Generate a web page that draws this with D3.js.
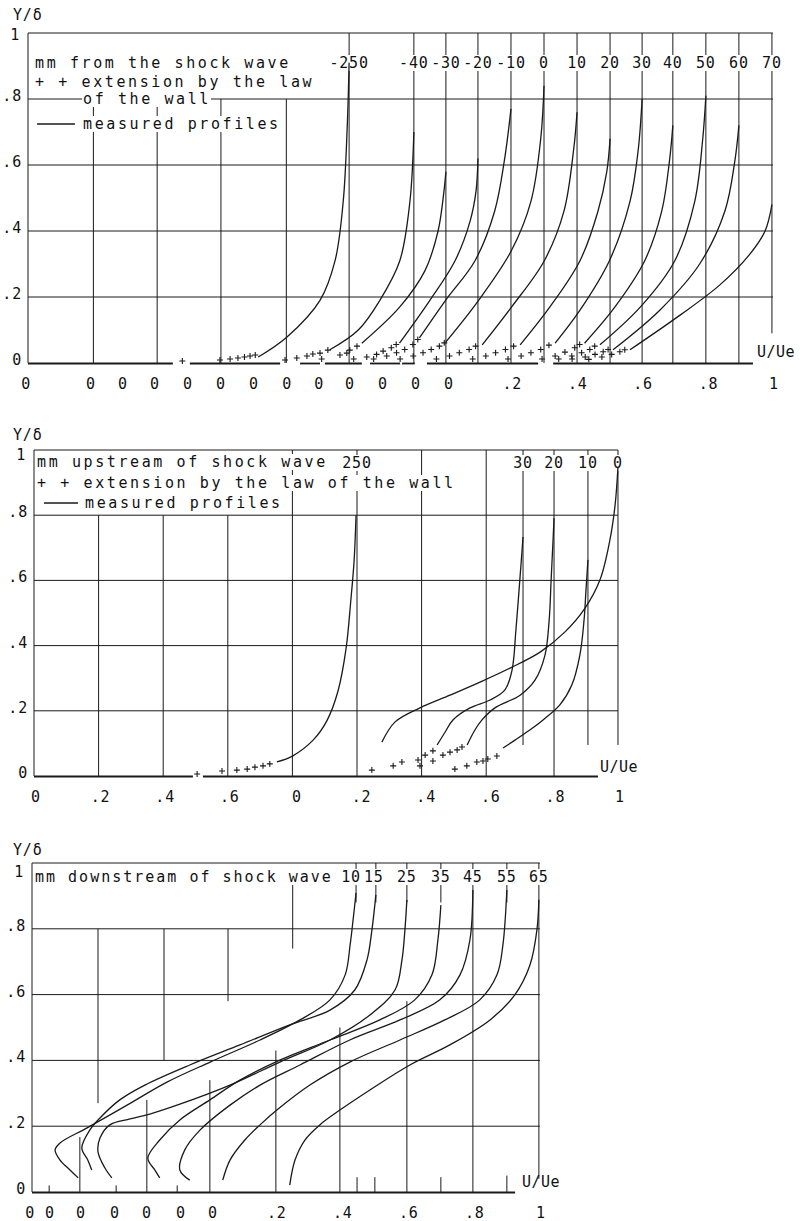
<!DOCTYPE html>
<html><head><meta charset="utf-8">
<script src="https://cdn.jsdelivr.net/npm/d3@7"></script>
<style>
body{margin:0;background:#fff;}
text{font-family:"DejaVu Sans Mono",monospace;font-size:15px;fill:#111;letter-spacing:0.8px;}
text.lg{letter-spacing:2.6px;}
text.lg3{letter-spacing:2.0px;}
</style></head><body><svg id="c" width="805" height="1221"></svg>
<script>
// ---------------- PANEL 1 DATA ----------------
const p1Labels = ["-250","-40","-30","-20","-10","0","10","20","30","40","50","60","70"];
const p1Offsets = [-0.018,0.18,0.278,0.376,0.477,0.578,0.679,0.78,0.878,0.972,1.073,1.174,1.275];
const p1Curves = [
 [[.722,.018],[.81,.079],[.911,.19],[.957,.31],[.982,.49],[.994,.71],[1.0,.91]],
 [[.743,.04],[.83,.10],[.896,.19],[.957,.31],[.988,.49],[1.0,.70]],
 [[.743,.06],[.859,.17],[.936,.28],[.976,.40],[.994,.52],[1.0,.58]],
 [[.76,.06],[.853,.19],[.93,.31],[.976,.43],[.994,.52],[1.0,.62]],
 [[.72,.076],[.80,.19],[.89,.31],[.95,.46],[.98,.615],[1.0,.77]],
 [[.70,.064],[.80,.19],[.90,.34],[.96,.49],[.99,.68],[1.0,.84]],
 [[.71,.055],[.80,.17],[.90,.31],[.96,.46],[.99,.65],[1.0,.76]],
 [[.725,.055],[.816,.17],[.908,.31],[.963,.46],[.99,.58],[1.0,.68]],
 [[.734,.06],[.81,.16],[.90,.31],[.963,.49],[.988,.645],[1.0,.80]],
 [[.73,.06],[.823,.17],[.914,.31],[.966,.46],[.99,.615],[1.0,.72]],
 [[.676,.055],[.80,.17],[.905,.31],[.966,.49],[.99,.675],[1.0,.81]],
 [[.615,.04],[.758,.16],[.88,.30],[.957,.46],[.988,.615],[1.0,.72]],
 [[.566,.04],[.719,.145],[.84,.236],[.93,.327],[.979,.40],[1.0,.48]]
];
const p1Plus = [
 [[.49,0],[.605,.003],[.636,.006],[.66,.009],[.68,.012],[.697,.015],[.713,.018]],
 [[.606,.003],[.642,.009],[.673,.015],[.691,.021],[.713,.024],[.737,.033]],
 [[.62,.006],[.676,.018],[.697,.024],[.706,.033],[.728,.045]],
 [[.62,.006],[.66,.012],[.69,.02],[.71,.03],[.735,.04],[.75,.05]],
 [[.58,.006],[.62,.015],[.65,.025],[.675,.035],[.70,.05],[.715,.065]],
 [[.56,.006],[.60,.015],[.63,.025],[.655,.035],[.68,.045],[.695,.055]],
 [[.57,.006],[.61,.015],[.64,.025],[.67,.035],[.69,.045]],
 [[.58,.006],[.62,.015],[.65,.025],[.68,.035],[.705,.045]],
 [[.59,.006],[.63,.015],[.66,.025],[.69,.035],[.715,.048]],
 [[.60,.006],[.64,.015],[.67,.027],[.70,.04],[.715,.05]],
 [[.55,.006],[.59,.015],[.62,.025],[.645,.035],[.66,.045]],
 [[.49,.006],[.53,.012],[.56,.02],[.585,.028],[.60,.035]],
 [[.44,.005],[.48,.012],[.51,.02],[.535,.028],[.55,.034]]
];
const p1Grid = [[0.2,0,0.8],[0.395,0,0.8],[0.59,0,0.8],[0.79,0,0.8]];
const p1RefBottom = [0,0,0,0,0,0,0,0,0,0,0,0,0.09];
const p1Base = [[0,0.443],[0.495,0.771],[0.832,0.893],[0.908,1.021],[1.046,1.138],[1.144,1.183],[1.22,1.56],[1.606,2.217]];
const p1TickU = [0.2,0.4,0.6,0.8,1.0];
const p1TickText = [".2",".4",".6",".8","1"];

// ---------------- PANEL 2 DATA ----------------
const p2Labels = ["250","30","20","10","0"];
const p2Offsets = [0,0.514,0.61,0.715,0.808];
const p2Curves = [
 [[.752,.043],[.80,.061],[.864,.11],[.907,.17],[.941,.26],[.966,.39],[.981,.54],[.991,.66],[.997,.80]],
 [[.734,.095],[.759,.135],[.783,.172],[.836,.209],[.898,.233],[.944,.264],[.966,.325],[.978,.448],[.99,.60],[1.0,.733]],
 [[.731,.095],[.755,.141],[.777,.172],[.817,.209],[.895,.248],[.941,.294],[.972,.371],[.985,.479],[.991,.601],[.997,.724],[1.0,.791]],
 [[.737,.086],[.774,.11],[.82,.141],[.861,.172],[.913,.218],[.95,.279],[.975,.371],[.988,.479],[.994,.571],[1.0,.663]],
 [[.269,.104],[.31,.166],[.387,.209],[.48,.248],[.573,.288],[.666,.331],[.759,.38],[.836,.442],[.898,.515],[.944,.601],[.975,.724],[.991,.831],[1.0,.948]]
];
const p2Plus = [
 [[.505,0],[.582,.009],[.628,.012],[.66,.015],[.684,.021],[.709,.025],[.73,.031]],
 [[.532,.012],[.598,.025],[.625,.037],[.675,.043],[.697,.058],[.721,.071]],
 [[.585,.025],[.625,.04],[.656,.058],[.678,.067],[.70,.074],[.715,.083]],
 [[.588,.015],[.625,.025],[.656,.037],[.675,.04],[.69,.046],[.718,.055]],
 []
];
const p2Grid = [[0.2,0,0.8],[0.4,0,0.8],[0.6,0,0.8],[0.8,0,1],[1.2,0,1],[1.4,0,1]];
const p2RefBottom = [0,0.095,0,0.095,0.095];
const p2Base = [[0,0.492],[0.523,1.746]];
const p2TickU = [0,0.2,0.4,0.6,0.808,1.008,1.208,1.408,1.608,1.808];
const p2TickText = ["0",".2",".4",".6","0",".2",".4",".6",".8","1"];

// ---------------- PANEL 3 DATA ----------------
const p3Labels = ["10","15","25","35","45","55","65"];
const p3Offsets = [-0.018,0.042,0.136,0.239,0.336,0.439,0.536];
const p3Curves = [
 [[.158,.043],[.133,.067],[.103,.097],[.088,.128],[.103,.149],[.185,.195],[.306,.264],[.427,.334],[.558,.395],[.709,.462],[.83,.523],[.921,.584],[.967,.66],[.982,.751],[.991,.827],[1.0,.909]],
 [[.139,.067],[.127,.097],[.109,.134],[.133,.188],[.164,.225],[.224,.28],[.30,.325],[.436,.386],[.588,.447],[.739,.508],[.861,.553],[.936,.614],[.973,.705],[.988,.796],[1.0,.903]],
 [[.106,.043],[.085,.073],[.064,.122],[.07,.164],[.10,.204],[.161,.222],[.221,.237],[.312,.267],[.464,.325],[.615,.395],[.767,.462],[.888,.538],[.964,.614],[.985,.705],[.994,.796],[1.0,.888]],
 [[.148,.043],[.133,.067],[.112,.103],[.148,.158],[.209,.219],[.30,.28],[.391,.34],[.512,.401],[.664,.462],[.815,.523],[.921,.584],[.973,.66],[.991,.766],[1.0,.872]],
 [[.142,.036],[.112,.067],[.127,.128],[.173,.188],[.264,.264],[.355,.325],[.476,.386],[.627,.462],[.779,.523],[.90,.584],[.961,.66],[.991,.766],[1.0,.918]],
 [[.139,.036],[.161,.097],[.206,.158],[.252,.204],[.303,.249],[.403,.325],[.524,.395],[.676,.462],[.812,.523],[.918,.584],[.97,.66],[.988,.751],[1.0,.918]],
 [[.245,.021],[.261,.097],[.291,.158],[.336,.204],[.397,.249],[.488,.31],[.609,.386],[.73,.447],[.852,.523],[.927,.599],[.973,.69],[.994,.796],[1.0,.888]]
];
const p3Grid = [[0.2,0.27,0.8],[0.4,0.40,0.8],[0.594,0.58,0.8],[0.79,0.74,0.95],
  [0.145,0,0.167],[0.348,0,0.28],[0.539,0,0.34],[0.739,0,0.43],[0.933,0,0.5],[1.136,0,0.58],
  [0.052,0,0.02],[0.255,0,0.02],[0.44,0,0.02],
  [0.985,0,0.045],[1.039,0,0.045],[1.239,0,0.045],[1.439,0,0.05]];
const p3RefBottom = [0.88,0.88,0.88,0.88,0,0.88,0.04];
const p3Base = [[0,1.464]];
const p3TickU = [0.736,0.936,1.136,1.336,1.536];
const p3TickText = [".2",".4",".6",".8","1"];

// ---------------- DRAWING ----------------
const svg = d3.select("#c");
const INK = "#1a1a1a";

function knockText(g, x, y, txt, anchor, cls){
  const t = g.append("text").attr("x",x).attr("y",y).attr("text-anchor",anchor||"start").attr("class",cls||null).text(txt);
  const b = t.node().getBBox();
  g.insert("rect", () => t.node()).attr("x",b.x-1).attr("y",b.y+1).attr("width",b.width+1).attr("height",b.height-2).attr("fill","#fff");
  return t;
}

function panel(cfg){
  const g = svg.append("g");
  const x = d3.scaleLinear().domain([0,cfg.uMax]).range([cfg.left, cfg.left+cfg.uMax*cfg.unit]);
  const y = d3.scaleLinear().domain([0,1]).range([cfg.base, cfg.top]);
  const grid = g.append("g").attr("stroke",INK).attr("stroke-width",1).attr("fill","none");
  grid.append("line").attr("x1",x(0)).attr("x2",x(cfg.uMax)).attr("y1",y(1)).attr("y2",y(1));
  grid.append("line").attr("x1",x(0)).attr("x2",x(0)).attr("y1",y(1)).attr("y2",y(0));
  [0.2,0.4,0.6,0.8].forEach(v=>grid.append("line").attr("x1",x(0)).attr("x2",x(cfg.uMax)).attr("y1",y(v)).attr("y2",y(v)));
  cfg.grid.forEach(d=>grid.append("line").attr("x1",x(d[0])).attr("x2",x(d[0])).attr("y1",y(d[1])).attr("y2",y(d[2])));
  cfg.offsets.forEach((o,i)=>{
    grid.append("line").attr("x1",x(o+1)).attr("x2",x(o+1)).attr("y1",y(1)).attr("y2",y(cfg.refBottom[i]));
  });
  cfg.baseSegs.forEach(s=>g.append("line").attr("stroke",INK).attr("stroke-width",1.8)
     .attr("x1",x(s[0])).attr("x2",x(s[1])).attr("y1",y(0)+0.5).attr("y2",y(0)+0.5));
  [0,0.2,0.4,0.6,0.8].forEach(v=>{
    g.append("text").attr("x",cfg.left-6).attr("y",y(v)+2).attr("text-anchor","end")
     .text(v===0?"0":d3.format(".1f")(v).replace(/^0/,""));
  });
  g.append("text").attr("x",cfg.left-8).attr("y",cfg.oneY).attr("text-anchor","end").text("1");
  g.append("text").attr("x",13).attr("y",cfg.ydY).text("Y/δ");
  cfg.originTicks.forEach(u=>g.append("text").attr("x",x(u)+4).attr("y",cfg.base+26).attr("text-anchor","middle").text("0"));
  cfg.tickU.forEach((u,i)=>g.append("text").attr("x",x(u)+2).attr("y",cfg.base+26).attr("text-anchor","middle").text(cfg.tickText[i]));
  g.append("text").attr("x",cfg.uLabel[0]).attr("y",cfg.uLabel[1]).style("letter-spacing","0.5px").text("U/Ue");
  const lg = g.append("g");
  cfg.legend(lg, x, y);
  cfg.labels.forEach((l,i)=>knockText(lg, x(cfg.offsets[i]+1)+(cfg.labelDx?cfg.labelDx[i]:0), cfg.labelY, l, "middle"));
  const line = d3.line().curve(d3.curveCatmullRom.alpha(0.5));
  cfg.curves.forEach((c,i)=>{
    const o = cfg.offsets[i];
    g.append("path").attr("fill","none").attr("stroke",INK).attr("stroke-width",1.3)
     .attr("d", line(c.map(d=>[x(o+d[0]), y(d[1])])));
  });
  cfg.plus.forEach((pts,i)=>{
    const o = cfg.offsets[i];
    pts.forEach(d=>g.append("path").attr("stroke",INK).attr("stroke-width",1.1).attr("fill","none")
      .attr("transform",`translate(${x(o+d[0])},${y(d[1])-2})`).attr("d","M-3,0H3M0,-3V3"));
  });
}

panel({left:28, unit:327, uMax:2.278, base:363, top:33,
  offsets:p1Offsets, labels:p1Labels, curves:p1Curves, plus:p1Plus, grid:p1Grid, refBottom:p1RefBottom,
  baseSegs:p1Base, originTicks:p1Offsets, tickU:p1TickU.map(u=>u+p1Offsets[12]), tickText:p1TickText,
  uLabel:[757,357], labelY:68, oneY:40, ydY:20,
  legend:(g,x,y)=>{
    knockText(g,35,68,"mm from the shock wave",null,"lg");
    knockText(g,35,87,"+ + extension by the law",null,"lg");
    knockText(g,83,104,"of the wall",null,"lg");
    g.append("line").attr("x1",37).attr("x2",75).attr("y1",124).attr("y2",124).attr("stroke",INK).attr("stroke-width",1.3);
    knockText(g,83,129,"measured profiles",null,"lg");
  }});

panel({left:34, unit:323, uMax:1.808, base:776, top:450,
  offsets:p2Offsets, labels:p2Labels, curves:p2Curves, plus:p2Plus, grid:p2Grid, refBottom:p2RefBottom,
  baseSegs:p2Base, originTicks:[], tickU:p2TickU, tickText:p2TickText,
  uLabel:[600,772], labelY:468, oneY:460, ydY:440,
  legend:(g,x,y)=>{
    knockText(g,37,467,"mm upstream of shock wave",null,"lg");
    knockText(g,37,488,"+ + extension by the law of the wall",null,"lg");
    g.append("line").attr("x1",44).attr("x2",78).attr("y1",503).attr("y2",503).attr("stroke",INK).attr("stroke-width",1.3);
    knockText(g,85,508,"measured profiles",null,"lg");
  }});

panel({left:32, unit:330, uMax:1.539, base:1192, top:863,
  offsets:p3Offsets, labels:p3Labels, curves:p3Curves, plus:p3Curves.map(()=>[]), grid:p3Grid, refBottom:p3RefBottom,
  labelDx:[-5,-2,0,0,0,0,0],
  baseSegs:p3Base, originTicks:p3Offsets, tickU:p3TickU, tickText:p3TickText,
  uLabel:[522,1187], labelY:882, oneY:877, ydY:855,
  legend:(g,x,y)=>{
    knockText(g,35,882,"mm downstream of shock wave",null,"lg3");
  }});
</script></body></html>
